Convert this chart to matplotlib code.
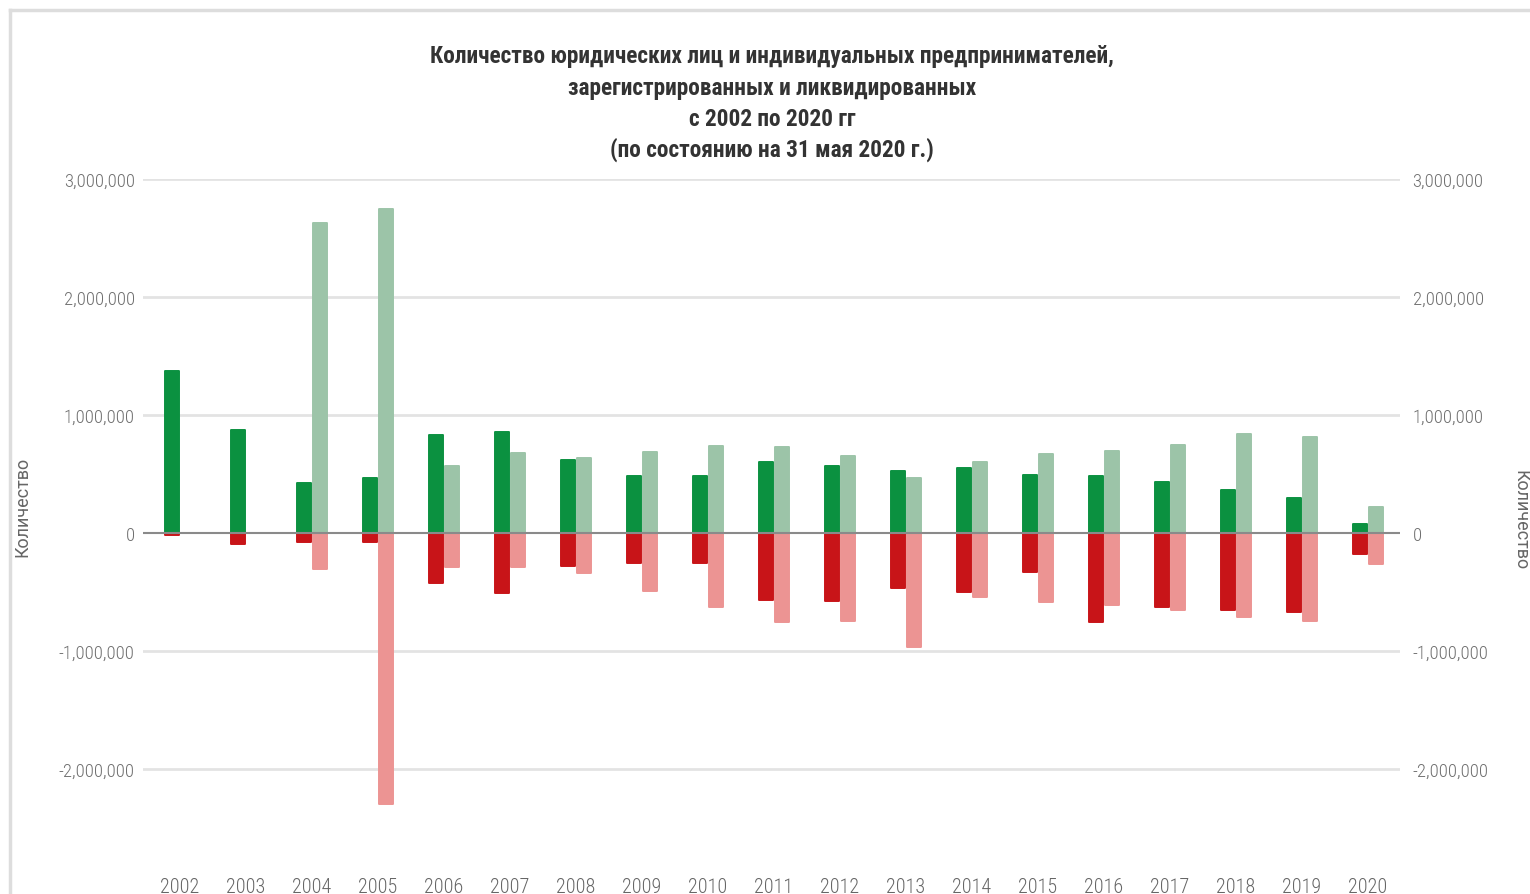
import matplotlib
matplotlib.use('Agg')
import matplotlib.pyplot as plt
from matplotlib import font_manager
from matplotlib.lines import Line2D
from matplotlib.ticker import FuncFormatter
import numpy as np

names = {f.name for f in font_manager.fontManager.ttflist}
NARROW = next((n for n in ['Roboto Condensed', 'PT Sans Narrow', 'Fira Sans Condensed',
                           'IBM Plex Sans Condensed'] if n in names), 'DejaVu Sans')
FAM = [NARROW, 'DejaVu Sans']
REG = ['Roboto', 'DejaVu Sans']

# ---- data ----
years = list(range(2002, 2021))
ul_registered = [1370000, 873000, 420000, 466000, 830000, 853000, 621000, 480000, 480000,
                 604000, 570000, 528000, 548000, 490000, 480000, 435000, 364000, 300000, 79000]
ip_registered = [0, 0, 2627000, 2746000, 570000, 678000, 633000, 684000, 740000,
                 731000, 650000, 463000, 599000, 669000, 692000, 749000, 842000, 816000, 223000]
ul_liquidated = [-20000, -90000, -80000, -74000, -426000, -508000, -277000, -254000, -254000,
                 -568000, -573000, -469000, -503000, -333000, -751000, -630000, -653000, -667000, -180000]
ip_liquidated = [0, 0, -305000, -2297000, -290000, -290000, -339000, -489000, -630000,
                 -757000, -749000, -969000, -545000, -582000, -610000, -650000, -715000, -749000, -260000]
y_ticks = [-2000000, -1000000, 0, 1000000, 2000000, 3000000]
title_lines = ['Количество юридических лиц и индивидуальных предпринимателей,',
               'зарегистрированных и ликвидированных',
               'с 2002 по 2020 гг',
               '(по состоянию на 31 мая 2020 г.)']
axis_label = 'Количество'

W, H = 1530, 895
fig = plt.figure(figsize=(W / 100, H / 100), dpi=100)
fig.patch.set_facecolor('white')

top_px, bot_px = 180, 868
left_px, right_px = 143, 1400
ax = fig.add_axes([left_px / W, 1 - bot_px / H, (right_px - left_px) / W, (bot_px - top_px) / H])
ymax = 3000000
ymin = (534 - bot_px) / 118 * 1e6
ax.set_ylim(ymin, ymax)
ax.set_xlim(2002 - 37 / 66, 2002 + (right_px - 180) / 66)

x = np.array(years, dtype=float)
bw = 0.2
off = 0.12
c_dg, c_lg, c_dr, c_lr = '#0b9140', '#9cc4a8', '#c81418', '#ec9493'
kw = dict(linewidth=1.4, joinstyle='round', zorder=2)
ax.bar(x - off, ul_registered, bw, color=c_dg, edgecolor=c_dg, **kw)
ax.bar(x + off, ip_registered, bw, color=c_lg, edgecolor=c_lg, **kw)
ax.bar(x - off, ul_liquidated, bw, color=c_dr, edgecolor=c_dr, **kw)
ax.bar(x + off, ip_liquidated, bw, color=c_lr, edgecolor=c_lr, **kw)

for t in y_ticks:
    if t == 0:
        ax.axhline(t, color='#8a8a8a', lw=1.5, zorder=3)
    else:
        ax.axhline(t, color='#e3e3e3', lw=2, zorder=1)

for s in ax.spines.values():
    s.set_visible(False)

fmt = FuncFormatter(lambda v, p: f'{int(v):,}')
ax.set_yticks(y_ticks)
ax.yaxis.set_major_formatter(fmt)
ax.tick_params(axis='y', length=0, pad=6, labelsize=13.5, labelcolor='#707070')
ax.set_xticks(years)
ax.set_xticklabels([str(y) for y in years])
ax.tick_params(axis='x', length=0, pad=7, labelsize=14.5, labelcolor='#666666')
for lab in ax.get_yticklabels() + ax.get_xticklabels():
    lab.set_fontfamily(FAM)
    lab.set_fontweight('light')

ax2 = ax.twinx()
ax2.set_ylim(ax.get_ylim())
ax2.set_yticks(y_ticks)
ax2.yaxis.set_major_formatter(fmt)
ax2.tick_params(axis='y', length=0, pad=9, labelsize=13.5, labelcolor='#707070')
for lab in ax2.get_yticklabels():
    lab.set_fontfamily(FAM)
    lab.set_fontweight('light')
for s in ax2.spines.values():
    s.set_visible(False)

fig.text(22 / W, 1 - 507 / H, axis_label, rotation=90, ha='center', va='center',
         fontsize=13, color='#666666', family=REG)
fig.text(1520 / W, 1 - 520 / H, axis_label, rotation=-90, ha='center', va='center',
         fontsize=13, color='#666666', family=REG)

for i, line in enumerate(title_lines):
    fig.text(772 / W, 1 - (57 + 31 * i) / H, line, ha='center', va='center',
             fontsize=16.8, fontweight='bold', color='#333333', family=FAM)

fig.add_artist(Line2D([10 / W, 1], [1 - 11 / H, 1 - 11 / H], color='#dddddd', lw=2.5))
fig.add_artist(Line2D([10 / W, 10 / W], [0, 1 - 11 / H], color='#dddddd', lw=2.5))

fig.savefig('out.png', dpi=100, facecolor='white')
